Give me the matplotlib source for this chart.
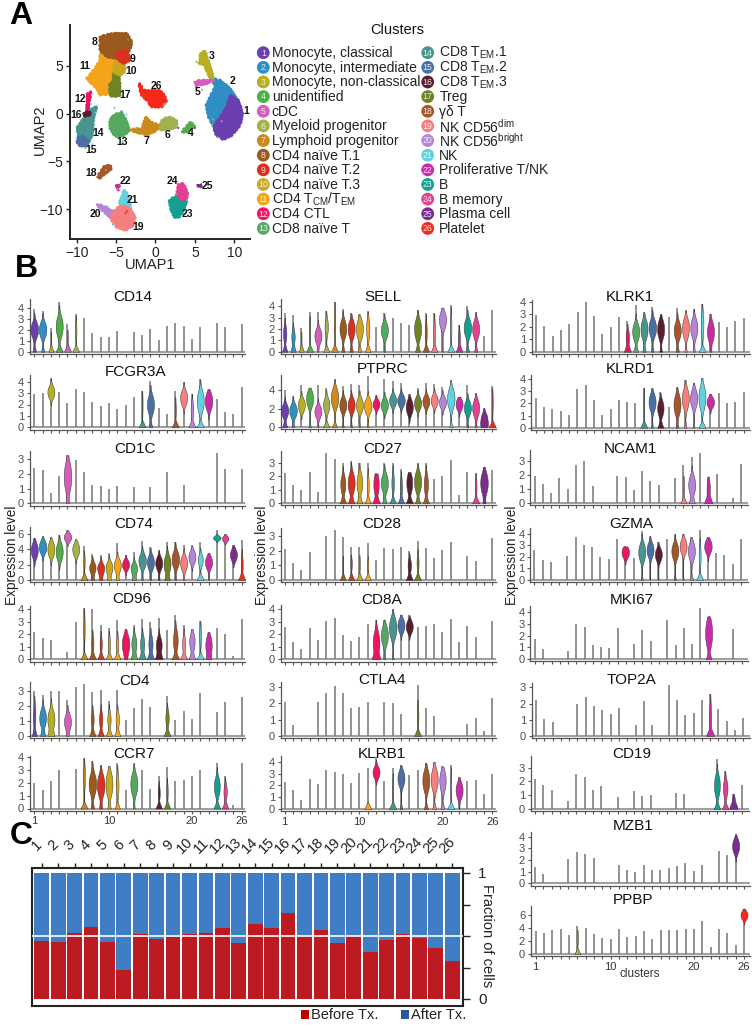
import numpy as np
import matplotlib
matplotlib.use("Agg")
import matplotlib.pyplot as plt
from matplotlib.patches import Polygon, Circle, Rectangle

plt.rcParams['font.family'] = ['Liberation Sans', 'DejaVu Sans']
plt.rcParams['mathtext.fontset'] = 'custom'
plt.rcParams['mathtext.rm'] = 'Liberation Sans'
plt.rcParams['mathtext.it'] = 'Liberation Sans:italic'
plt.rcParams['mathtext.bf'] = 'Liberation Sans:bold'
plt.rcParams['mathtext.default'] = 'regular'

W, H = 752, 1026

cluster_ids = list(range(1, 27))
cluster_names = ["Monocyte, classical", "Monocyte, intermediate", "Monocyte, non-classical", "unidentified",
                 "cDC", "Myeloid progenitor", "Lymphoid progenitor", "CD4 naïve T.1", "CD4 naïve T.2",
                 "CD4 naïve T.3", r"CD4 T$_{CM}$/T$_{EM}$", "CD4 CTL", "CD8 naïve T",
                 r"CD8 T$_{EM}$.1", r"CD8 T$_{EM}$.2", r"CD8 T$_{EM}$.3", "Treg", "γδ T",
                 r"NK CD56$^{dim}$", r"NK CD56$^{bright}$", "NK", "Proliferative T/NK", "B", "B memory",
                 "Plasma cell", "Platelet"]
cluster_colors = ["#6A3FB0", "#2F8FC4", "#B8AE22", "#4FAE48", "#D65DBB", "#A3B14F", "#CC8A1C", "#9A5A1E",
                  "#D9301F", "#C9A81E", "#F5A31A", "#EC1560", "#55A860", "#46958F", "#4A6FA5", "#5A1E2E",
                  "#6F8426", "#A5562A", "#F57E7E", "#B583D8", "#62D0E0", "#C92BA8", "#12A090", "#E24090",
                  "#7B2C8E", "#F5281A"]

# ---- UMAP outlines, in UMAP units ----
umap_11 = [(-7.03,6.27),(-5.13,5.92),(-5.13,4.53),(-5.55,3.48),(-5.76,2.09),(-7.03,1.92),(-7.46,2.61),(-8.73,3.66),(-7.67,4.7),(-7.03,5.57)]
umap_8 = [(-7.03,8.01),(-5.68,8.36),(-3.64,8.36),(-3.0,7.49),(-3.22,6.62),(-4.7,5.75),(-6.19,5.92),(-7.03,6.62)]
umap_9 = [(-4.92,6.45),(-3.64,6.62),(-3.22,5.57),(-4.07,5.23),(-4.92,5.75)]
umap_10 = [(-5.13,5.57),(-3.9,5.4),(-3.9,4.36),(-4.49,4.01),(-5.34,4.36)]
umap_17 = [(-5.34,4.36),(-4.58,4.18),(-4.49,1.92),(-5.34,1.74),(-5.76,1.92),(-5.85,2.96),(-5.34,3.48)]
umap_12 = [(-8.64,2.09),(-8.22,2.26),(-8.31,1.39),(-8.47,1.22),(-8.52,0.17),(-8.73,0.17)]
umap_14 = [(-9.15,-0.52),(-8.09,0.52),(-7.46,0.7),(-7.88,-0.52),(-7.97,-2.09),(-8.52,-3.14),(-9.58,-2.79),(-10.0,-1.57),(-9.58,-1.05)]
umap_15 = [(-10.0,-2.89),(-9.75,-2.44),(-9.24,-2.33),(-8.64,-2.72),(-8.52,-3.14),(-8.94,-3.41),(-9.58,-3.38)]
umap_16 = [(-9.15,0),(-8.39,0.28),(-8.22,-0.17),(-8.94,-0.28)]
umap_13 = [(-5.34,-0.17),(-4.28,0.17),(-3.64,-0.87),(-3.31,-1.74),(-4.07,-2.37),(-5.13,-2.37),(-5.76,-1.57),(-5.76,-0.7)]
umap_7 = [(-3.22,-1.67),(-1.74,-1.57),(-1.23,-0.35),(-0.68,-0.87),(0.51,-1.22),(0.17,-1.74),(-1.1,-2.26),(-2.58,-1.92)]
umap_6 = [(0.59,-1.05),(1.02,-0.52),(1.86,-0.35),(2.71,-0.77),(2.71,-1.39),(1.44,-1.74),(0.59,-1.67)]
umap_4 = [(3.35,-1.92),(4.41,-0.87),(4.96,-1.32),(3.98,-1.92)]
umap_26 = [(-2.03,3.14),(-1.53,2.44),(-0.47,2.4),(0.59,2.4),(1.02,2.0),(1.44,1.39),(0.81,0.7),(-0.47,0.7),(-1.1,1.39),(-1.74,1.92),(-2.03,2.61)]
umap_1 = [(9.49,1.92),(10.55,1.39),(11.06,0),(10.76,-1.22),(9.7,-2.26),(8.64,-2.72),(7.71,-2.26),(7.37,-1.39),(8.22,-0.35),(9.07,0.7)]
umap_2 = [(7.16,3.66),(8.22,3.48),(9.49,2.61),(10.42,1.39),(9.49,1.92),(9.07,0.7),(8.22,-0.35),(7.37,-1.39),(6.74,-0.35),(6.44,0.87),(7.16,2.09),(7.58,2.79)]
umap_3 = [(5.68,6.27),(6.31,6.55),(6.61,5.75),(7.16,4.36),(7.37,3.48),(6.95,3.66),(6.19,5.05),(5.47,5.29),(5.68,5.75)]
umap_5 = [(5.04,3.31),(5.68,3.48),(7.37,3.48),(6.53,3.14),(5.47,2.96),(5.13,2.86)]
umap_18 = [(-7.37,-6.62),(-6.53,-5.5),(-5.76,-5.4),(-5.55,-5.75),(-6.4,-6.27),(-7.12,-6.79)]
umap_20 = [(-7.37,-9.48),(-6.4,-9.69),(-5.34,-10.28),(-5.55,-10.98),(-6.27,-10.45),(-7.03,-9.93)]
umap_21 = [(-3.98,-8.01),(-3.43,-8.54),(-3.14,-10.1),(-3.86,-10.1),(-4.58,-9.41)]
umap_19 = [(-5.55,-10.45),(-4.49,-9.58),(-3.22,-9.93),(-2.58,-10.8),(-2.8,-11.67),(-3.86,-12.2),(-4.92,-11.85),(-5.55,-11.15)]
umap_22 = [(-5.0,-7.49),(-4.58,-7.49),(-4.75,-8.01)]
umap_23 = [(1.78,-9.06),(2.71,-8.54),(3.98,-9.23),(3.35,-10.45),(2.92,-10.87),(2.37,-10.8),(1.86,-9.76)]
umap_24 = [(2.92,-7.39),(3.56,-7.32),(4.07,-8.19),(3.98,-8.89),(3.35,-9.06),(2.71,-8.36)]
umap_25 = [(5.45,-7.45),(5.75,-7.45),(5.75,-7.7),(5.45,-7.7)]
umap_order = [(11,umap_11),(8,umap_8),(17,umap_17),(10,umap_10),(9,umap_9),(12,umap_12),(14,umap_14),(15,umap_15),(16,umap_16),
              (13,umap_13),(7,umap_7),(6,umap_6),(4,umap_4),(26,umap_26),(2,umap_2),(1,umap_1),(3,umap_3),(5,umap_5),
              (18,umap_18),(20,umap_20),(21,umap_21),(19,umap_19),(22,umap_22),(23,umap_23),(24,umap_24),(25,umap_25)]

label_x = [11.48,9.83,7.12,4.53,5.3,1.48,-1.19,-7.75,-2.92,-3.14,-8.94,-9.58,-4.28,-7.33,-8.18,-10.08,-3.86,-8.14,-2.16,-7.67,-2.92,-3.86,4.03,2.16,6.61,0.17]
label_y = [0.24,3.45,6.03,-2.02,2.26,-2.26,-2.86,7.49,5.71,4.43,4.95,1.5,-2.93,-2.02,-3.76,-0.17,1.92,-6.2,-11.88,-10.45,-8.99,-7.07,-10.45,-7.07,-7.6,2.86]

stray_x = [7.9,8.4,7.3,7.2,5.3,5.2,5.9,-4.2,-5.9,-3.7,-5.2,-3.5,1.0,1.1,2.9,5.0,-8.2,-7.6,-8.9,-6.3,-4.6,-3.9,-5.4,-6.0,-3.6,-4.8,2.6,-3.8,-2.4,-8.0]
stray_y = [-2.5,-0.8,-0.6,-1.2,2.6,5.4,2.5,-2.9,-0.9,-0.1,0.6,7.7,0.8,1.0,-1.5,-1.5,1.0,0.1,-3.6,-5.9,-9.1,-8.0,-11.6,-9.8,-10.2,-7.9,-8.4,-10.4,-1.5,-3.2]
stray_c = [6,6,6,6,6,6,6,21,4,21,21,13,6,6,25,25,21,21,6,6,21,21,21,21,26,6,6,26,6,21]

# ---- violin panels: tops are the highest value per cluster (0 = no cells);
# bodies give {cluster: (mode, mode width, base width, spread[, lowest])} ----
tops_CD14 = [3.85,3.7,2.2,4.5,2.5,3.4,3.05,1.7,1.35,1.35,1.9,0,1.75,1.5,2.05,1.05,2.3,2.65,2.3,1.2,2.25,0,2.65,2.25,0,2.55]
body_CD14 = {1:(2.0,.45,.2,.55),2:(2.0,.45,.2,.55),3:(1.0,.03,.3,.5),4:(2.3,.42,.42,.7),5:(1.0,.06,.4,.5),6:(2.0,.08,.4,.6)}
tops_FCGR3A = [2.95,3.0,4.3,3.1,2.15,3.4,3.1,2.25,1.9,2.1,1.6,2.0,2.65,3.2,4.05,1.65,1.15,3.15,4.0,2.95,4.2,3.35,2.5,1.35,1.15,3.55]
body_FCGR3A = {3:(3.1,.42,0,.42),14:(2.0,.05,.42,.7),15:(2.0,.42,.2,.62),18:(1.5,.05,.42,.6),19:(2.6,.42,0,.5),20:(1.5,.15,.42,.6),21:(2.3,.42,.42,.7),22:(2.3,.45,0,.58)}
tops_CD1C = [2.4,2.25,.7,1.85,3.25,2.9,2.1,1.25,1.2,.95,1.15,0,1.1,0,1.1,0,2.1,0,1.25,0,0,0,3.4,2.3,0,2.3]
body_CD1C = {5:(1.8,.45,.15,.75)}
tops_CD74 = [5.5,5.7,5.6,5.9,6.5,5.3,4.4,3.4,3.3,3.5,4.8,3.3,3.6,5.1,4.3,3.9,4.9,5,4.6,4.5,5,3.5,6.5,6,4.6,5.2]
body_CD74 = {1:(3.9,.42,0,.75),2:(4.3,.45,0,.65),3:(4.0,.42,0,.75),4:(3.7,.42,0,.85),5:(5.6,.45,0,.42,4.4),6:(4.0,.42,0,.65),7:(2.4,.07,.42,.7),8:(1.6,.38,.2,.55),9:(1.5,.42,.2,.55),10:(1.6,.42,.2,.6),11:(1.9,.42,.2,.65),12:(2.0,.42,0,.5),13:(1.5,.38,.25,.55),14:(2.5,.45,.1,.7),15:(2.3,.42,.1,.7),16:(2.2,.42,.1,.65),17:(2.1,.42,.3,.85),18:(2.7,.45,.1,.8),19:(2.2,.42,.1,.7),20:(3.0,.42,0,.65),21:(2.6,.3,.42,.6),22:(2.3,.42,.05,.65),23:(5.5,.45,0,.22,3.5),24:(5.4,.38,0,.3,1.8),25:(3.3,.42,0,.6),26:(2.0,.12,.42,.9)}
tops_CD96 = [2.15,1.7,1.5,0,.55,3,4.05,4,2.75,2.5,3.15,2.4,2.7,3.2,3,3.3,2.35,3.5,2.7,2.4,3.05,2.15,2.5,2,.3,3.2]
body_CD96 = {7:(2.5,.07,.42,.8),8:(1.2,.12,.42,.5),9:(1.2,.13,.4,.45),10:(1.2,.13,.38,.45),11:(1.2,.13,.38,.45),12:(1.2,.45,.1,.6),13:(1.2,.3,.38,.5),14:(1.2,.25,.42,.5),15:(1.2,.25,.42,.5),16:(1.1,.35,.42,.5),18:(1.5,.28,.42,.6),19:(1.2,.18,.38,.5),20:(1.4,.32,.38,.55),21:(1.9,.1,.42,.6),22:(1.1,.38,.2,.6)}
tops_CD4 = [3,2.75,3,3,2.4,3.3,3.45,2.95,3.1,2.35,3.05,1.05,1.85,2.5,1.95,0,2.65,1.1,1.7,1.15,2.85,0,1.6,2.25,0,2.6]
body_CD4 = {1:(1.3,.12,.3,.6),2:(1.2,.4,.3,.45),3:(1.1,.42,.38,.5),5:(.95,.42,.1,.4),8:(1.1,.15,.38,.4),9:(1.1,.2,.38,.4),10:(1.1,.2,.38,.4),11:(1.1,.2,.38,.4),17:(1.2,.2,.42,.4)}
tops_CCR7 = [2,1.4,2.1,3,0,3.1,3.9,3.7,3.35,3.3,3.5,1.4,3.5,2.95,1.55,2.55,3.25,2.1,2.2,2.55,3,0,3.5,2.55,.3,3.55]
body_CCR7 = {7:(2.5,.1,.42,.7),8:(1.9,.45,.2,.62),9:(1.8,.45,.2,.65),10:(1.9,.42,.2,.7),11:(1.8,.15,.3,.65),13:(1.9,.42,.1,.62),16:(1.2,.12,.4,.4),17:(1.3,.08,.38,.5),23:(1.7,.35,.4,.55),24:(1.3,.2,.4,.45)}

tops_SELL = [3.4,3.2,2.1,3.5,3.5,3.6,4.4,3.8,3.4,3.3,3.55,2.2,3.4,3,2.55,2.4,3.7,3.4,3.4,3.9,4.1,2.4,4,3.5,1.4,3.7]
body_SELL = {1:(1.6,.2,.32,.55),2:(1.3,.2,.32,.5),3:(1,.03,.3,.5),4:(1.8,.05,.42,.7),5:(1.4,.42,.05,.5),6:(2.2,.2,.38,.55),7:(2.5,.07,.42,.9),8:(2,.4,.2,.58),9:(2,.42,.2,.58),10:(2,.42,.2,.62),11:(2,.2,.35,.7),13:(1.9,.42,.1,.52),17:(2,.42,.3,.68),18:(1.7,.1,.38,.7),19:(1.7,.1,.38,.8),20:(2.8,.42,.08,.58),21:(2.2,.08,.42,.8),22:(1.1,.1,.38,.55),23:(2.1,.45,.2,.58),24:(2,.42,.2,.58)}
tops_PTPRC = [4,3.4,4.6,4.3,4.6,4.2,5.2,4.5,4.7,4.6,5.5,3.5,5.2,5,4.8,3.6,4.2,4.8,4.7,4.4,5.1,3.3,4.6,3.7,2.1,4.5]
body_PTPRC = {1:(1.8,.42,.3,.55),2:(1.8,.45,.15,.55),3:(2.4,.42,0,.55),4:(3.1,.42,.15,.68),5:(1.7,.42,.05,.5),6:(2.4,.38,.38,.6),7:(3.2,.45,.3,.78),8:(2.4,.42,.1,.58),9:(2.4,.42,.08,.58),10:(2.4,.42,.08,.58),11:(2.3,.45,.1,.58),12:(2.5,.42,0,.38,1),13:(2.4,.42,0,.52),14:(2.9,.42,0,.48),15:(2.9,.45,0,.48),16:(2.2,.42,0,.62),17:(2.6,.42,0,.52),18:(2.8,.42,0,.48,1),19:(2.9,.42,0,.48),20:(2.7,.42,0,.48),21:(3.1,.45,.2,.82),22:(2.5,.42,0,.48),23:(2.1,.42,.1,.58),24:(2.1,.42,.1,.68),25:(.8,.42,.2,.55),26:(2.7,.05,.42,.8)}
tops_CD27 = [2.2,1.35,.95,2.3,.85,3.7,3.25,3,3.1,3,3,2.2,2.95,2.95,2.55,2.3,2.95,2.95,1.8,2.05,3.2,.6,2.3,2.2,2.7,2.45]
body_CD27 = {8:(1.4,.3,.38,.5),9:(1.5,.42,.38,.55),10:(1.5,.35,.35,.55),11:(1.3,.12,.35,.55),12:(1.4,.32,.42,.6),13:(1.5,.42,.25,.5),14:(1.5,.15,.38,.55),15:(1.2,.12,.38,.5),16:(1.5,.35,.42,.55),17:(1.6,.42,.3,.55),18:(1.4,.25,.35,.55),24:(1.2,.1,.42,.5),25:(1.5,.45,.15,.6)}
tops_CD28 = [2.15,1.15,.7,1.9,0,3,3.45,2.95,2.3,2.25,2.55,1.4,2.2,2.1,2.3,2,2.7,2.2,1.5,2.05,2.6,0,1.65,1.3,0,2.9]
body_CD28 = {8:(1.1,.05,.35,.3),9:(1.1,.08,.38,.3),10:(1.1,.06,.38,.3),11:(1,.07,.38,.3),16:(1,.2,.42,.35),17:(1.2,.12,.42,.4)}
tops_CD8A = [2.55,1.4,.85,2.5,1.55,3.05,3.3,1.95,1.45,1.8,2.8,3.15,3.15,4,3.55,3.5,2.55,2.65,2.8,2.15,3.2,1.35,2.65,1.75,0,3.05]
body_CD8A = {12:(1.3,.4,.42,.7),13:(1.9,.42,.12,.58),14:(2.5,.45,.12,.62),15:(2.7,.42,0,.42),16:(2.6,.42,0,.38)}
tops_CTLA4 = [2.05,.7,0,0,2.05,2.65,3.05,2.65,1.7,1.75,2.05,0,2.1,2,1.35,0,3.1,1.7,1.25,0,0,0,.75,1.1,.3,2.3]
body_CTLA4 = {17:(1.2,.1,.42,.45)}
tops_KLRB1 = [2.3,1.6,.8,2.5,2.1,3.3,3.1,2.95,2.2,3.05,3.5,4.4,2.4,3.5,3.7,2.9,3.3,3.9,4,3.6,3.7,2.7,2.35,2.45,1.3,2.95]
body_KLRB1 = {11:(.5,0,.42,.3),12:(3.1,.42,0,.38,1.2),14:(1.5,.05,.42,.8),15:(2.6,.42,.15,.52),18:(2.4,.42,.25,.68),19:(2.5,.42,.25,.68),20:(2.4,.38,.25,.68),21:(1.9,.06,.42,.8),22:(1.6,.42,.03,.52)}

tops_KLRK1 = [2.9,2.05,1.25,1.75,2.2,3.2,4,2.85,1.45,1.95,2.8,2.45,3.7,3.15,3.6,3,2.8,3.5,3.3,3.45,3.85,3.05,2.35,2,2.45,2.7]
body_KLRK1 = {12:(1.1,.2,.42,.45),13:(1.6,.42,.3,.52),14:(1.8,.42,.2,.58),15:(1.9,.45,.15,.52),16:(1.8,.42,.15,.58),18:(1.7,.42,.2,.52),19:(1.9,.42,.15,.58),20:(1.9,.42,.12,.58),21:(2.2,.15,.42,.75),22:(1.6,.42,.1,.58)}
tops_KLRD1 = [2.4,1.7,1.55,1.4,1.05,3.2,3.5,2.3,1.05,1.5,2.25,2.1,2,3.3,3.25,2.9,1.7,3.35,3.95,3.7,4.1,2.8,2.85,2,2.1,2.95]
body_KLRD1 = {14:(2,.05,.42,.8),15:(2.1,.42,.1,.52),16:(1.6,.38,.38,.5),18:(1.9,.42,.15,.62),19:(2.4,.42,.15,.62),20:(2.4,.42,.1,.58),21:(2.5,.42,.42,.72),22:(2.1,.45,0,.33)}
tops_NCAM1 = [1.95,1.4,.7,1.8,1,2.7,3,1.2,0,0,1.95,1.85,.95,2.3,1.6,1.3,0,1.8,2.7,3.25,3.6,1.9,2.1,0,.35,2.8]
body_NCAM1 = {19:(1.2,.1,.38,.35),20:(1.3,.42,.35,.5),22:(.9,.2,.42,.6)}
tops_GZMA = [2.6,1.75,1.55,0,2.1,3.7,3.05,2.85,1.95,1.85,3.5,2.9,1.9,4.2,3.8,3.3,3.5,4,4,3.7,4.3,3.7,2.3,2.15,1.4,3.5]
body_GZMA = {12:(2.4,.45,0,.38,.8),14:(2.4,.42,.12,.58),15:(2.6,.42,.03,.48),16:(2.2,.42,.03,.43),18:(2.5,.42,.12,.52),19:(2.9,.42,.05,.48),20:(2.5,.42,.2,.58),21:(2,.12,.42,.7),22:(2.9,.45,0,.45,1.6)}
tops_MKI67 = [1.7,.9,0,0,.7,3,2.7,1.2,1,.95,2.6,0,1.25,2.5,1.55,0,3.3,1.2,2.6,1.25,4.3,3.6,0,0,2.55,0]
body_MKI67 = {22:(2.2,.42,.3,.9)}
tops_TOP2A = [2.2,1.05,.85,0,0,1.95,2.4,1.85,1.6,1.35,1.75,0,.65,2.15,.7,0,3.15,2.2,1.3,1.45,2.2,2.6,1.65,.95,.4,1.1]
body_TOP2A = {22:(.8,.12,.42,.9)}
tops_CD19 = [2.15,1.75,1.4,0,.6,2.55,2.35,1.35,1.65,0,.85,0,1.3,.95,1.05,0,0,1.15,1.1,0,0,0,3.65,2.75,1.1,1.75]
body_CD19 = {23:(1.7,.35,.38,.58),24:(1.5,.28,.38,.48),25:(.4,.2,.38,.4)}
tops_MZB1 = [1.4,.8,0,0,2.05,2.65,2.5,2.2,0,0,1.55,1.1,1,1.55,1.15,1.15,1.35,1.5,1.75,1.05,1.6,0,2.75,2.45,4.2,0]
body_MZB1 = {25:(3.2,.42,0,.48)}
tops_PPBP = [3.5,3.3,3.7,3.85,2.9,4.3,4,3.15,2.4,2.3,3.9,2.55,2.75,3.55,2.3,3.65,3.7,3.7,3.85,3.9,5.1,1.1,3.85,3.2,1.4,7]
body_PPBP = {6:(2.4,.1,.35,.6),26:(6,.42,0,.52)}

frac_before = [.46,.45,.524,.571,.45,.233,.518,.476,.495,.518,.526,.566,.447,.595,.566,.68,.497,.55,.447,.497,.376,.471,.513,.481,.405,.304]

fig = plt.figure(figsize=(W / 100, H / 100), dpi=100, facecolor='white')

def add_px_axes(left, right, top, bottom):
    return fig.add_axes([left / W, 1 - bottom / H, (right - left) / W, (bottom - top) / H])

overlay = fig.add_axes([0, 0, 1, 1], zorder=10)
overlay.set_xlim(0, W); overlay.set_ylim(H, 0); overlay.axis('off'); overlay.patch.set_alpha(0)

# ---- panel A ----
ax = add_px_axes(70, 250, 25, 239)
ax.set_xlim(-10.85, 12.0); ax.set_ylim(-13.1, 9.25)
for cid, poly in umap_order:
    c = cluster_colors[cid - 1]
    p = Polygon(poly, closed=True, facecolor=c, edgecolor=c, lw=1.6, joinstyle='round')
    p.set_sketch_params(0.7, 4, 2)
    ax.add_patch(p)
ax.scatter(stray_x, stray_y, s=2.2, c=[cluster_colors[i - 1] for i in stray_c], linewidths=0)
for cid, lx, ly in zip(cluster_ids, label_x, label_y):
    ax.text(lx, ly, str(cid), fontsize=7.5, fontweight='bold', ha='center', va='center', color='#111111')
for s in ('top', 'right'):
    ax.spines[s].set_visible(False)
for s in ('left', 'bottom'):
    ax.spines[s].set_linewidth(1.4); ax.spines[s].set_color('#222222')
ax.set_xticks([-10, -5, 0, 5, 10]); ax.set_yticks([-10, -5, 0, 5])
ax.tick_params(length=3, width=1.0, labelsize=10, pad=2, color='#222222', labelcolor='#222222')
overlay.text(150, 265, "UMAP1", fontsize=10.5, ha='center', va='center', color='#222222')
overlay.text(40, 130, "UMAP2", fontsize=10.5, rotation=90, ha='center', va='center', color='#222222')

# legend
overlay.text(397, 30, "Clusters", fontsize=10.5, ha='center', va='center', color='#111111')
for i, (cid, name) in enumerate(zip(cluster_ids, cluster_names)):
    col = i // 13
    row = i % 13
    y = 52.7 + row * 14.64
    cx, tx = (263.3, 271.7) if col == 0 else (427.7, 439.3)
    overlay.add_patch(Circle((cx, y), 6.4, facecolor=cluster_colors[i], edgecolor='none'))
    overlay.text(cx, y + 0.3, str(cid), fontsize=6.3, ha='center', va='center', color='white', alpha=0.85)
    overlay.text(tx, y + 0.5, name, fontsize=10, ha='left', va='center', color='#222222')

# ---- panel B ----
col1_x = (29.5, 245, 34.3, 241.7)
col2_x = (280.7, 496, 284.7, 492.3)
panels = [
    ("CD14", tops_CD14, body_CD14, col1_x, 351.7, 11.0, 299, 354, [0,1,2,3,4], 296.7, 133),
    ("FCGR3A", tops_FCGR3A, body_FCGR3A, col1_x, 427.3, 11.4, 375, 430, [0,1,2,3,4], 371.7, 136),
    ("CD1C", tops_CD1C, body_CD1C, col1_x, 503.3, 14.8, 450.7, 505.7, [0,1,2,3], 449, 135),
    ("CD74", tops_CD74, body_CD74, col1_x, 580, 7.67, 527, 582, [0,2,4,6], 524, 134),
    ("CD96", tops_CD96, body_CD96, col1_x, 659.3, 12.6, 606, 661.7, [0,1,2,3,4], 599, 132),
    ("CD4", tops_CD4, body_CD4, col1_x, 736, 15.0, 682, 738.3, [0,1,2,3], 680.7, 134),
    ("CCR7", tops_CCR7, body_CCR7, col1_x, 808.5, 12.9, 756, 810.5, [0,1,2,3,4], 754, 134),
    ("SELL", tops_SELL, body_SELL, col2_x, 351.7, 11.33, 299, 354, [0,1,2,3,4], 296.7, 383),
    ("PTPRC", tops_PTPRC, body_PTPRC, col2_x, 427.3, 9.25, 375, 429.3, [0,2,4], 369, 383),
    ("CD27", tops_CD27, body_CD27, col2_x, 503.3, 13.55, 450.7, 505.3, [0,1,2,3], 449, 383),
    ("CD28", tops_CD28, body_CD28, col2_x, 580, 14.55, 527.7, 582.3, [0,1,2,3], 524, 382),
    ("CD8A", tops_CD8A, body_CD8A, col2_x, 659.3, 12.6, 605, 661.7, [0,1,2,3,4], 600, 382),
    ("CTLA4", tops_CTLA4, body_CTLA4, col2_x, 736, 16.4, 682.3, 738.3, [0,1,2,3], 680, 382),
    ("KLRB1", tops_KLRB1, body_KLRB1, col2_x, 809, 11.83, 755.7, 811, [0,1,2,3,4], 754, 382),
    ("KLRK1", tops_KLRK1, body_KLRK1, (531.7, 750, 536, 743.7), 351.7, 12.5, 299.7, 354.3, [0,1,2,3,4], 296.7, 630),
    ("KLRD1", tops_KLRD1, body_KLRD1, (531, 750, 535.7, 743.5), 427.7, 12.17, 375, 429.7, [0,1,2,3,4], 369, 630),
    ("NCAM1", tops_NCAM1, body_NCAM1, (530.3, 748, 534.7, 741.3), 503.3, 14.1, 450, 505.3, [0,1,2,3], 449, 630),
    ("GZMA", tops_GZMA, body_GZMA, (530, 748, 534.3, 741), 580, 11.58, 527.7, 582, [0,1,2,3,4], 524, 631.7),
    ("MKI67", tops_MKI67, body_MKI67, (530.3, 748, 535, 741.7), 659.3, 11.9, 605.7, 661, [0,1,2,3,4], 600, 631.7),
    ("TOP2A", tops_TOP2A, body_TOP2A, (531.7, 750, 536, 743.3), 736, 16.2, 682.7, 738, [0,1,2,3], 680, 631.7),
    ("CD19", tops_CD19, body_CD19, (530.7, 749, 535, 741.7), 809, 13.8, 755.7, 811, [0,1,2,3], 754, 631.7),
    ("MZB1", tops_MZB1, body_MZB1, (530.7, 750, 535, 744), 883.3, 11.65, 832, 885.7, [0,1,2,3,4], 826, 632.7),
    ("PPBP", tops_PPBP, body_PPBP, (530.7, 750, 535.7, 744), 954, 6.5, 906, 956, [0,2,4,6], 900, 633),
]

for gene, tops, bodies, xs, zero, unit, ptop, pbot, yticks, ty, tx in panels:
    left, right, first, last = xs
    a = add_px_axes(left, right, ptop, pbot)
    sp = (last - first) / 25
    a.set_xlim(1 - (first - left) / sp, 26 + (right - last) / sp)
    a.set_ylim(-(pbot - zero) / unit, (zero - ptop) / unit)
    a.axhline(0, color='#a0a0a0', lw=1.5, zorder=1)
    a.vlines(cluster_ids, 0, tops, color='#7a7a7a', lw=1.15, zorder=2)
    ymax = (zero - ptop) / unit
    bh = 0.15 * ymax
    for cid, body in bodies.items():
        c, w, b, s = body[:4]
        low = body[4] if len(body) > 4 else 0
        top = tops[cid - 1]
        y = np.linspace(low, top, 240)
        # a rounder mode than a plain bell, plus the wide foot at zero seen in the picture
        d = np.abs((y - c) / (s * 1.25))
        prof = w * np.exp(-0.5 * d ** 2.4) + b * np.clip(1 - y / bh, 0, 1) ** 1.1
        prof = np.minimum(prof, 0.48)
        mask = prof > 0.012
        a.fill_betweenx(y[mask], cid - prof[mask], cid + prof[mask], facecolor=cluster_colors[cid - 1],
                        edgecolor='#3a3a3a', lw=0.35, zorder=3)
    for s_name in ('top', 'right'):
        a.spines[s_name].set_visible(False)
    for s_name in ('left', 'bottom'):
        a.spines[s_name].set_color('#555555'); a.spines[s_name].set_linewidth(0.9)
    a.set_xticks(cluster_ids); a.set_yticks(yticks)
    a.tick_params(axis='y', length=2.5, width=0.8, labelsize=8, pad=1.5, color='#555555', labelcolor='#4d4d4d')
    show = gene in ("CCR7", "KLRB1", "PPBP")
    a.tick_params(axis='x', length=2, width=0.8, labelbottom=False, color='#555555')
    if show:
        for v in (1, 10, 20, 26):
            a.annotate(str(v), (v, 0), xycoords=('data', 'axes fraction'), xytext=(0, -4), textcoords='offset points',
                       fontsize=8, ha='center', va='top', color='#333333')
    overlay.text(tx, ty, gene, fontsize=11, ha='center', va='center', color='#111111')

for x in (12, 262, 512):
    overlay.text(x, 555, "Expression level", fontsize=9.8, rotation=90, ha='center', va='center', color='#222222')
overlay.text(640, 974, "clusters", fontsize=8.5, ha='center', va='center', color='#333333')

# ---- panel C ----
b = add_px_axes(32, 463, 867.7, 1005.7)
sp = 16.42
b.set_xlim(1 - (41.7 - 32) / sp, 26 + (463 - 452.3) / sp)
b.set_ylim(-(1005.7 - 999) / 126, 1 + (873 - 867.7) / 126)
before = np.array(frac_before)
b.bar(cluster_ids, before, width=0.9, color='#BE1A22', linewidth=0)
b.bar(cluster_ids, 1 - before, bottom=before, width=0.9, color='#3F7DC4', linewidth=0)
b.axhline(0.5, color='white', lw=1.2, zorder=5)
for s_name in b.spines:
    b.spines[s_name].set_linewidth(1.5); b.spines[s_name].set_color('#222222')
b.xaxis.tick_top(); b.yaxis.tick_right()
b.set_xticks(cluster_ids)
b.set_xticklabels([str(i) for i in cluster_ids], rotation=45, ha='center', va='bottom', rotation_mode='anchor', fontsize=10.5, color='#222222')
b.tick_params(axis='x', length=3.5, width=1.0, pad=9, color='#222222')
b.set_yticks([0, .25, .5, .75, 1]); b.set_yticklabels(['0', '', '', '', '1'], fontsize=11, color='#222222')
b.tick_params(axis='y', length=5, width=1.0, pad=6, color='#222222')
overlay.text(487, 936, "Fraction of cells", fontsize=10.5, rotation=270, ha='center', va='center', color='#222222')
overlay.add_patch(Rectangle((300.5, 1010), 8.5, 8.5, facecolor='#C00000', edgecolor='none'))
overlay.text(311, 1015, "Before Tx.", fontsize=10.5, ha='left', va='center', color='#222222')
overlay.add_patch(Rectangle((400.5, 1010), 8.5, 8.5, facecolor='#2F5597', edgecolor='none'))
overlay.text(411, 1015, "After Tx.", fontsize=10.5, ha='left', va='center', color='#222222')

for letter, x, y in (("A", 21, 16), ("B", 26, 269), ("C", 21, 836)):
    overlay.text(x, y, letter, fontsize=23, fontweight='bold', ha='center', va='center', color='black')

fig.savefig("out.png", dpi=100)
